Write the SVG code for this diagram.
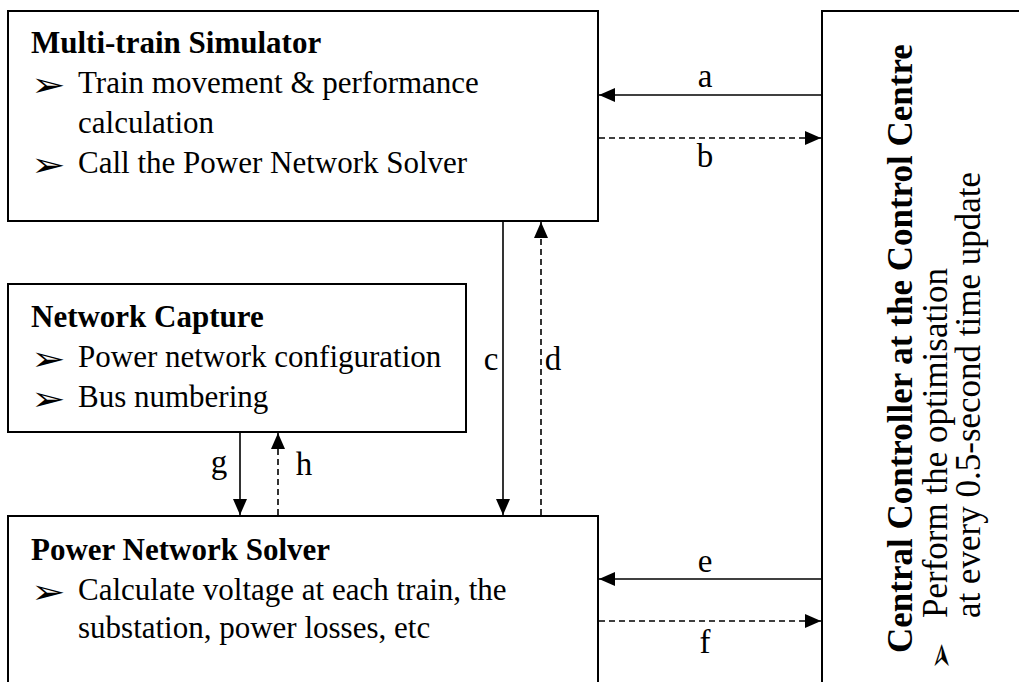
<svg xmlns="http://www.w3.org/2000/svg" width="1019" height="682" viewBox="0 0 1019 682">
<style>
.box{fill:#fff;stroke:#000;stroke-width:2}
.t{font-family:"Liberation Serif","Times New Roman",serif;font-size:31px;fill:#000}
.b{font-weight:bold}
.r{font-family:"Liberation Serif","Times New Roman",serif;font-size:35px;fill:#000}
.lbl{font-family:"Liberation Serif","Times New Roman",serif;font-size:33px;fill:#000;text-anchor:middle}
.bul{font-family:"DejaVu Sans",sans-serif;font-size:33px;fill:#000}
.ln{stroke:#000;stroke-width:1.6;fill:none}
.ds{stroke-dasharray:6 4}
</style>
<defs>
<marker id="ah" viewBox="0 0 16 14" refX="16" refY="7" markerWidth="16" markerHeight="14" markerUnits="userSpaceOnUse" orient="auto">
<path d="M0,0 L16,7 L0,14 z" fill="#000"/>
</marker>
</defs>
<rect width="1019" height="682" fill="#fff"/>
<g id="multi-train-simulator">
<rect class="box" x="8" y="11" width="590" height="210"/>
<text class="t b" x="31" y="53">Multi-train Simulator</text>
<text class="bul" transform="translate(31,96) scale(1.25,1)">➢</text>
<text class="t" x="78" y="93">Train movement &amp; performance</text>
<text class="t" x="78" y="133">calculation</text>
<text class="bul" transform="translate(31,176) scale(1.25,1)">➢</text>
<text class="t" x="78" y="173">Call the Power Network Solver</text>
</g>
<g id="network-capture">
<rect class="box" x="8" y="284" width="458" height="148"/>
<text class="t b" x="31" y="327">Network Capture</text>
<text class="bul" transform="translate(31,370) scale(1.25,1)">➢</text>
<text class="t" x="78" y="367">Power network configuration</text>
<text class="bul" transform="translate(31,410) scale(1.25,1)">➢</text>
<text class="t" x="78" y="407">Bus numbering</text>
</g>
<g id="power-network-solver">
<rect class="box" x="8" y="516" width="590" height="200"/>
<text class="t b" x="31" y="560">Power Network Solver</text>
<text class="bul" transform="translate(31,603) scale(1.25,1)">➢</text>
<text class="t" x="78" y="600">Calculate voltage at each train, the</text>
<text class="t" x="78" y="638">substation, power losses, etc</text>
</g>
<g id="central-controller">
<rect class="box" x="822" y="11" width="220" height="700"/>
<text class="r b" transform="translate(912,653) rotate(-90)">Central Controller at the Control Centre</text>
<text class="bul" font-size="42" transform="translate(952,670) rotate(-90)">➢</text>
<text class="r" transform="translate(947,618) rotate(-90)">Perform the optimisation</text>
<text class="r" transform="translate(980,618) rotate(-90)">at every 0.5-second time update</text>
</g>
<g id="connectors">
<line class="ln" x1="822" y1="95" x2="599" y2="95" marker-end="url(#ah)"/>
<line class="ln ds" x1="599" y1="138" x2="821" y2="138" marker-end="url(#ah)"/>
<line class="ln" x1="503" y1="222" x2="503" y2="515" marker-end="url(#ah)"/>
<line class="ln ds" x1="541" y1="515" x2="541" y2="222" marker-end="url(#ah)"/>
<line class="ln" x1="240" y1="433" x2="240" y2="515" marker-end="url(#ah)"/>
<line class="ln ds" x1="278" y1="515" x2="278" y2="433" marker-end="url(#ah)"/>
<line class="ln" x1="822" y1="579" x2="599" y2="579" marker-end="url(#ah)"/>
<line class="ln ds" x1="599" y1="621" x2="821" y2="621" marker-end="url(#ah)"/>
<text class="lbl" x="705" y="87">a</text>
<text class="lbl" x="705" y="167">b</text>
<text class="lbl" x="491" y="370">c</text>
<text class="lbl" x="553" y="370">d</text>
<text class="lbl" x="705" y="572">e</text>
<text class="lbl" x="705" y="653">f</text>
<text class="lbl" x="219" y="473">g</text>
<text class="lbl" x="304" y="475">h</text>
</g>
</svg>
